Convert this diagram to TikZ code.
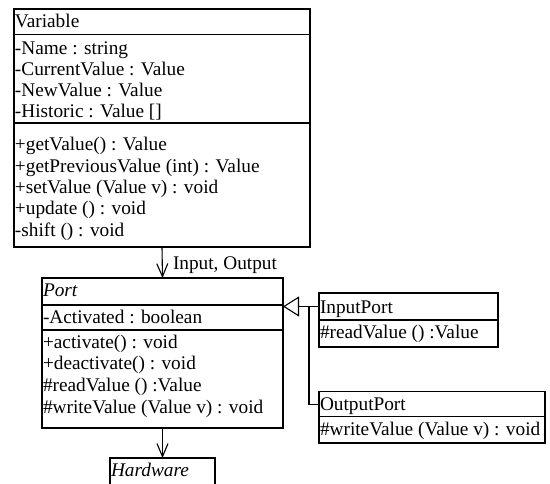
\documentclass[tikz,border=0pt]{standalone}
\usepackage{fontspec}
\setmainfont{Liberation Serif}
\usetikzlibrary{arrows.meta}
\begin{document}
\begin{tikzpicture}[x=1pt,y=-1pt,
  every node/.style={font=\fontsize{19.3}{21}\selectfont},
  comp/.style={draw, line width=1.1pt, inner sep=0pt, outer sep=0pt, anchor=north west},
  txt/.style={anchor=base west, inner sep=0pt, outer sep=0pt},
  assoc/.style={line width=1.1pt, -{Straight Barb[length=13pt,width=11pt]}},
  inh/.style={line width=1.1pt, -{Triangle[open,length=16pt,width=20pt,fill=white]}},
  plain/.style={line width=1.1pt}]
\useasboundingbox (0,0) rectangle (550,484);
% Variable
\node[comp, minimum width=296pt, minimum height=25.7pt] (varT) at (14,9) {};
\node[comp, minimum width=296pt, minimum height=88.3pt] (varA) at (14,34.7) {};
\node[comp, minimum width=296pt, minimum height=124pt] (varM) at (14,123) {};
\node[txt] (v0) at (15,27.3) {Variable};
\node[txt] (v1) at (15,54.3) {-Name : string};
\node[txt] (v2) at (15,75.7) {-CurrentValue : Value};
\node[txt] (v3) at (15,96.7) {-NewValue : Value};
\node[txt] (v4) at (15,117.5) {-Historic : Value []};
\node[txt] (v5) at (15,150.7) {+getValue() : Value};
\node[txt] (v6) at (15,172.2) {+getPreviousValue (int) : Value};
\node[txt] (v7) at (15,193.7) {+setValue (Value v) : void};
\node[txt] (v8) at (15,215) {+update () : void};
\node[txt] (v9) at (15,236.2) {-shift () : void};
% Port
\node[comp, minimum width=241pt, minimum height=27pt] (portT) at (42,278) {};
\node[comp, minimum width=241pt, minimum height=25pt] (portA) at (42,305) {};
\node[comp, minimum width=241pt, minimum height=98pt] (portM) at (42,330) {};
\node[txt] (p0) at (43,296.7) {\itshape Port};
\node[txt] (p1) at (43,323.3) {-Activated : boolean};
\node[txt] (p2) at (43,348.3) {+activate() : void};
\node[txt] (p3) at (43,370) {+deactivate() : void};
\node[txt] (p4) at (43,391.7) {\#readValue () :Value};
\node[txt] (p5) at (43,413.3) {\#writeValue (Value v) : void};
% InputPort
\node[comp, minimum width=179pt, minimum height=27pt] (inT) at (319,293) {};
\node[comp, minimum width=179pt, minimum height=27pt] (inM) at (319,320) {};
\node[txt] (i0) at (320,313.3) {InputPort};
\node[txt] (i1) at (320,338.8) {\#readValue () :Value};
% OutputPort
\node[comp, minimum width=226pt, minimum height=25pt] (outT) at (319,391.7) {};
\node[comp, minimum width=226pt, minimum height=26.3pt] (outM) at (319,416.7) {};
\node[txt] (o0) at (320,410) {OutputPort};
\node[txt] (o1) at (320,435.5) {\#writeValue (Value v) : void};
% Hardware
\node[comp, minimum width=105pt, minimum height=45pt] (hw) at (110,458) {};
\node[txt] (h0) at (111,476.7) {\itshape Hardware};
% connectors
\draw[assoc] (varM.south) -- (portT.north);
\node[txt] (lbl) at (173,270) {Input, Output};
\draw[assoc] (portM.south) -- (hw.north);
\coordinate (jn) at (309,306.5);
\draw[inh] (inT.west) -- (inT.west -| portT.east);
\draw[plain] (outT.west) -| (jn);
\end{tikzpicture}
\end{document}
